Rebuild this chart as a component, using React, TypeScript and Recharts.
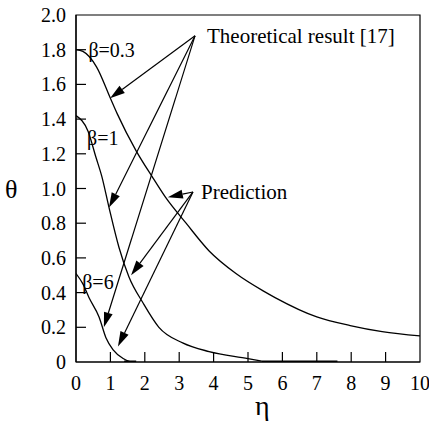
import React from 'react';
import { LineChart, Line, XAxis, YAxis, ReferenceArea, ReferenceLine, ReferenceDot } from 'recharts';

// beta = 0.3
const eta03 = [0, 0.2, 0.6, 1.0, 1.2, 1.74, 2.24, 2.6, 3.2, 3.87, 4.65, 5.44, 5.8, 7.0, 7.97, 8.9, 10];
const theta03 = [1.8, 1.79, 1.7, 1.52, 1.43, 1.22, 1.06, 0.95, 0.8, 0.64, 0.51, 0.41, 0.37, 0.26, 0.21, 0.175, 0.15];

// beta = 1
const eta1 = [0, 0.35, 0.58, 0.75, 0.96, 1.25, 1.54, 1.95, 2.41, 3.1, 3.87, 5.0, 5.4];
const theta1 = [1.42, 1.33, 1.18, 1.07, 0.89, 0.66, 0.49, 0.34, 0.2, 0.11, 0.06, 0.02, 0.005];

// beta = 6
const eta6 = [0, 0.2, 0.38, 0.67, 0.87, 1.08, 1.37, 1.6];
const theta6 = [0.51, 0.45, 0.37, 0.26, 0.14, 0.07, 0.02, 0];

// prediction tails lying on the axis
const tail1Eta = [5.4, 7.6];
const tail6Eta = [1.4, 1.75];
const tailTheta = [0, 0];

const xTicks = [0, 1, 2, 3, 4, 5, 6, 7, 8, 9, 10];
const yTicks = [0, 0.2, 0.4, 0.6, 0.8, 1.0, 1.2, 1.4, 1.6, 1.8, 2.0];

// annotation arrows: from label point to curve
const theoryFrom = { x: 3.46, y: 1.88 };
const theoryTo = [
  { x: 0.99, y: 1.52 },
  { x: 0.96, y: 0.89 },
  { x: 0.81, y: 0.2 },
];
const predFrom = { x: 3.4, y: 0.98 };
const predTo = [
  { x: 2.67, y: 0.95 },
  { x: 1.6, y: 0.5 },
  { x: 1.22, y: 0.09 },
];

const betaLabels = [
  { x: 0.36, y: 1.8, text: 'β=0.3' },
  { x: 0.32, y: 1.29, text: 'β=1' },
  { x: 0.18, y: 0.46, text: 'β=6' },
];

const toPoints = (xs: number[], ys: number[]) => xs.map((x, i) => ({ x, y: ys[i] }));

const FONT = 'Liberation Serif';

const XTick = (props: any) => {
  const { x, y, payload } = props;
  return (
    <g>
      {payload.value !== 0 && payload.value !== 10 && (
        <line x1={x} x2={x} y1={y} y2={y - 10} stroke="#000" strokeWidth={1.2} />
      )}
      <text x={x} y={y + 28} textAnchor="middle" fontSize={20} fontFamily={FONT} fill="#000">
        {payload.value}
      </text>
    </g>
  );
};

const YTick = (props: any) => {
  const { x, y, payload } = props;
  const v = payload.value;
  return (
    <g>
      {v !== 0 && v !== 2 && (
        <line x1={x} x2={x + 10} y1={y} y2={y} stroke="#000" strokeWidth={1.2} />
      )}
      <text x={x - 10} y={y + 7} textAnchor="end" fontSize={20} fontFamily={FONT} fill="#000">
        {v === 0 ? '0' : v.toFixed(1)}
      </text>
    </g>
  );
};

const Arrow = (props: any) => {
  const { x1, y1, x2, y2 } = props;
  const dx = x2 - x1;
  const dy = y2 - y1;
  const len = Math.sqrt(dx * dx + dy * dy) || 1;
  const ux = dx / len;
  const uy = dy / len;
  const hl = 15;
  const hw = 4.5;
  const bx = x2 - ux * hl;
  const by = y2 - uy * hl;
  const pts = `${x2},${y2} ${bx - uy * hw},${by + ux * hw} ${bx + uy * hw},${by - ux * hw}`;
  return (
    <g>
      <line x1={x1} y1={y1} x2={bx} y2={by} stroke="#000" strokeWidth={1.2} />
      <polygon points={pts} fill="#000" />
    </g>
  );
};

const betaStyle = { fontSize: 20, fontFamily: FONT, fill: '#000' };
const noteStyle = { fontSize: 21, fontFamily: FONT, fill: '#000' };

const App: React.FC = () => {
  return (
    <div style={{ position: 'absolute', left: 0, top: 0, background: '#fff', fontFamily: FONT }}>
      <style>{`body{margin:0} svg text{font-family:"Liberation Serif",serif}`}</style>
      <LineChart width={429} height={426} margin={{ top: 15, right: 9, left: 0, bottom: 0 }}>
        <XAxis
          type="number"
          dataKey="x"
          domain={[0, 10]}
          ticks={xTicks}
          tickSize={0}
          tickMargin={0}
          tick={<XTick />}
          height={64}
          stroke="#000"
          strokeWidth={1.2}
          allowDataOverflow
        />
        <YAxis
          type="number"
          dataKey="y"
          domain={[0, 2]}
          ticks={yTicks}
          tickSize={0}
          tickMargin={0}
          tick={<YTick />}
          width={76}
          stroke="#000"
          strokeWidth={1.2}
          allowDataOverflow
        />
        <ReferenceArea x1={0} x2={10} y1={0} y2={2} fill="none" stroke="#000" strokeWidth={1.2} />

        <Line data={toPoints(eta03, theta03)} dataKey="y" type="monotone" stroke="#000" strokeWidth={1.3} dot={false} isAnimationActive={false} />
        <Line data={toPoints(eta1, theta1)} dataKey="y" type="monotone" stroke="#000" strokeWidth={1.3} dot={false} isAnimationActive={false} />
        <Line data={toPoints(eta6, theta6)} dataKey="y" type="monotone" stroke="#000" strokeWidth={1.3} dot={false} isAnimationActive={false} />
        <Line data={toPoints(tail1Eta, tailTheta)} dataKey="y" type="linear" stroke="#000" strokeWidth={3} dot={false} isAnimationActive={false} />
        <Line data={toPoints(tail6Eta, tailTheta)} dataKey="y" type="linear" stroke="#000" strokeWidth={3} dot={false} isAnimationActive={false} />

        {theoryTo.map((p, i) => (
          <ReferenceLine key={`t${i}`} segment={[theoryFrom, p]} shape={Arrow} />
        ))}
        {predTo.map((p, i) => (
          <ReferenceLine key={`p${i}`} segment={[predFrom, p]} shape={Arrow} />
        ))}

        {betaLabels.map((b) => (
          <ReferenceDot
            key={b.text}
            x={b.x}
            y={b.y}
            r={0}
            fill="none"
            stroke="none"
            label={{ value: b.text, position: 'right', offset: 0, style: betaStyle }}
          />
        ))}
        <ReferenceDot
          x={theoryFrom.x}
          y={theoryFrom.y}
          r={0}
          fill="none"
          stroke="none"
          label={{ value: 'Theoretical result [17]', position: 'right', offset: 12, style: noteStyle }}
        />
        <ReferenceDot
          x={predFrom.x}
          y={predFrom.y}
          r={0}
          fill="none"
          stroke="none"
          label={{ value: 'Prediction', position: 'right', offset: 8, style: noteStyle }}
        />
      </LineChart>
      <div style={{ position: 'absolute', left: 5, top: 177, fontFamily: FONT, fontSize: 26, lineHeight: '26px' }}>θ</div>
      <div style={{ position: 'absolute', left: 255, top: 392, fontFamily: FONT, fontSize: 28, lineHeight: '28px' }}>η</div>
    </div>
  );
};

export default App;
